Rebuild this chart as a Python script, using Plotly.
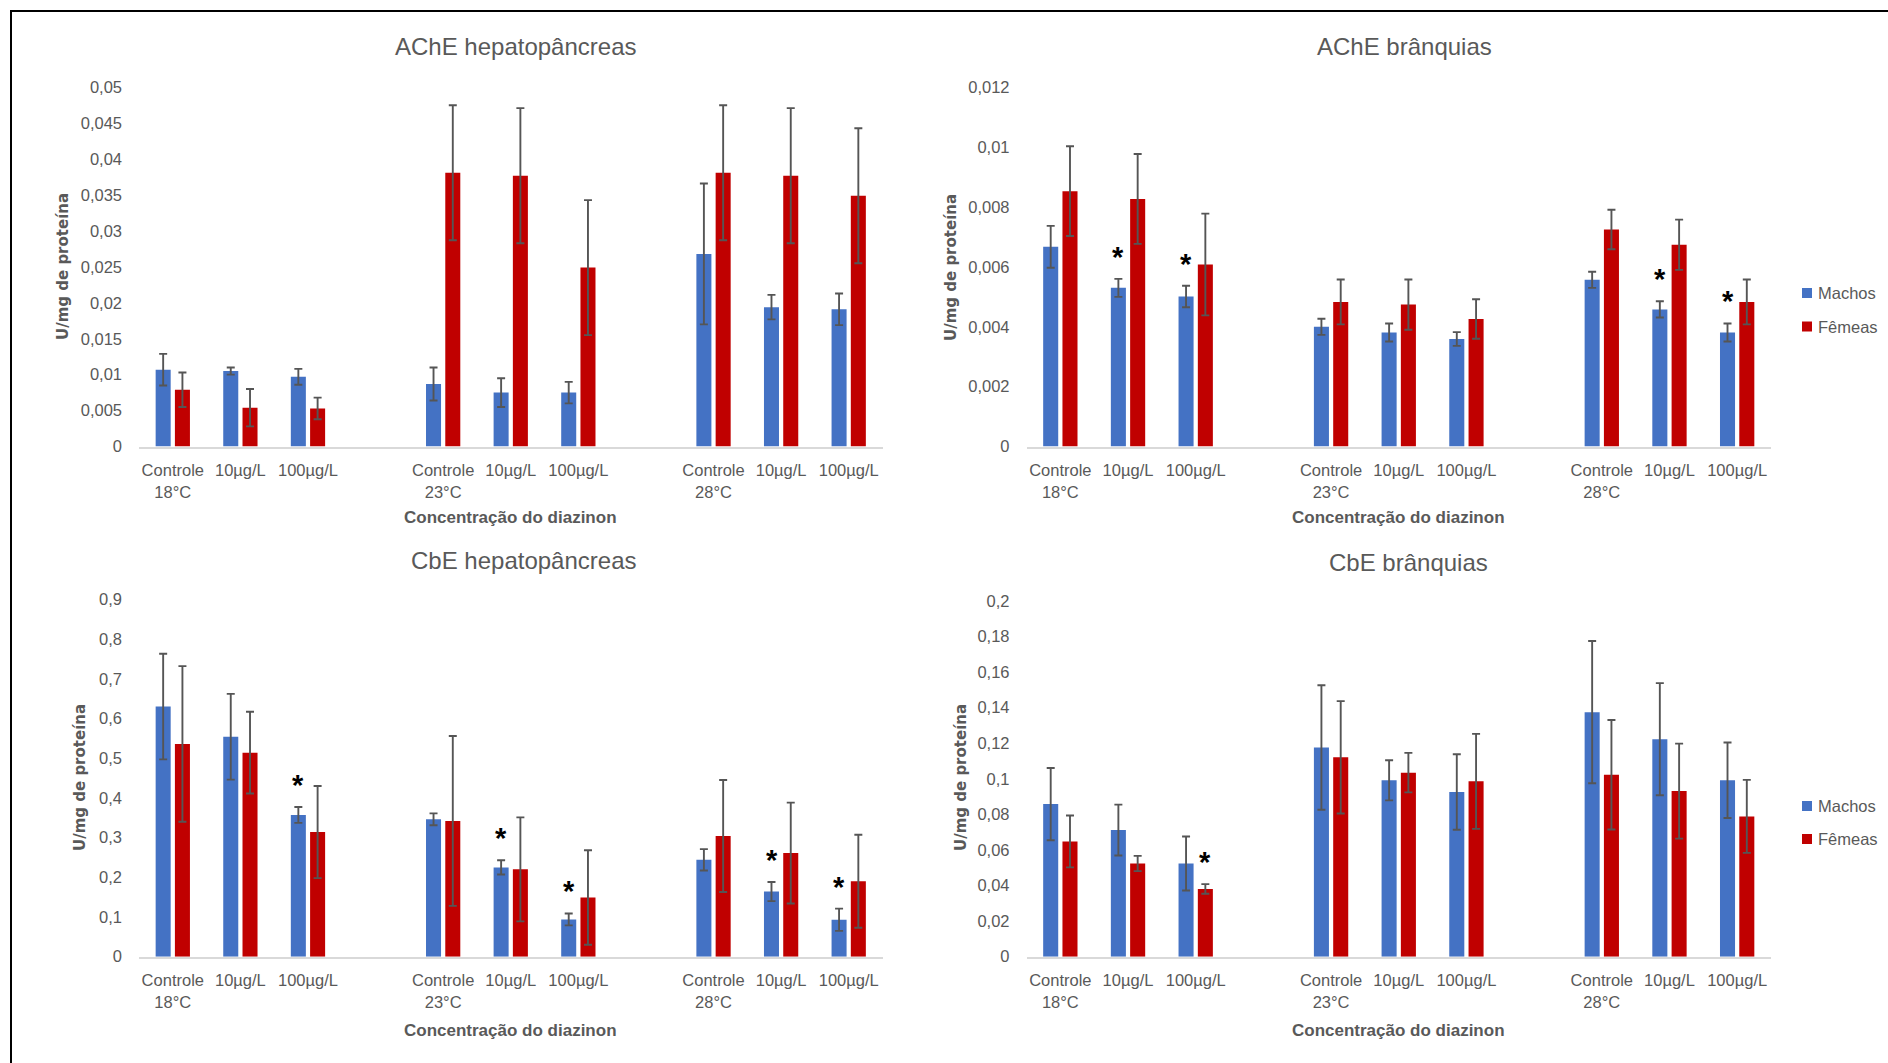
import plotly.graph_objects as go

W, H = 1888, 1063

# ---------------- data ----------------
categories = ["Controle<br>18°C", "10µg/L", "100µg/L", "",
              "Controle<br>23°C", "10µg/L", "100µg/L", "",
              "Controle<br>28°C", "10µg/L", "100µg/L"]
series_names = ["Machos", "Fêmeas"]

# AChE hepatopâncreas
ache_hep_machos = [0.0107, 0.0105, 0.0097, 0.0087, 0.0075, 0.0075, 0.0268, 0.0194, 0.0191]
ache_hep_machos_err = [0.0022, 0.0005, 0.0011, 0.0023, 0.0020, 0.0015, 0.0098, 0.0017, 0.0022]
ache_hep_femeas = [0.0079, 0.0054, 0.0053, 0.0381, 0.0377, 0.0249, 0.0381, 0.0377, 0.0349]
ache_hep_femeas_err = [0.0024, 0.0026, 0.0015, 0.0094, 0.0094, 0.0094, 0.0094, 0.0094, 0.0094]

# AChE brânquias
ache_br_machos = [0.00667, 0.00530, 0.00501, 0.00400, 0.00381, 0.00359, 0.00557, 0.00458, 0.00381]
ache_br_machos_err = [0.00070, 0.00030, 0.00036, 0.00027, 0.00030, 0.00023, 0.00027, 0.00027, 0.00030]
ache_br_femeas = [0.00853, 0.00827, 0.00608, 0.00483, 0.00474, 0.00426, 0.00725, 0.00674, 0.00483]
ache_br_femeas_err = [0.00150, 0.00150, 0.00170, 0.00075, 0.00084, 0.00066, 0.00066, 0.00084, 0.00075]

# CbE hepatopâncreas
cbe_hep_machos = [0.630, 0.554, 0.357, 0.346, 0.225, 0.094, 0.244, 0.164, 0.093]
cbe_hep_machos_err = [0.133, 0.108, 0.020, 0.015, 0.018, 0.015, 0.027, 0.024, 0.028]
cbe_hep_femeas = [0.536, 0.514, 0.314, 0.342, 0.220, 0.149, 0.304, 0.261, 0.190]
cbe_hep_femeas_err = [0.196, 0.103, 0.116, 0.214, 0.131, 0.119, 0.141, 0.127, 0.117]

# CbE brânquias
cbe_br_machos = [0.0858, 0.0712, 0.0524, 0.1176, 0.0992, 0.0926, 0.1375, 0.1223, 0.0992]
cbe_br_machos_err = [0.0203, 0.0143, 0.0152, 0.0350, 0.0113, 0.0212, 0.0400, 0.0315, 0.0212]
cbe_br_femeas = [0.0648, 0.0524, 0.0381, 0.1121, 0.1035, 0.0986, 0.1023, 0.0931, 0.0789]
cbe_br_femeas_err = [0.0146, 0.0043, 0.0027, 0.0316, 0.0111, 0.0267, 0.0308, 0.0267, 0.0205]

# significance markers: (series index, bar index among the 9)
ache_hep_sig = []
ache_br_sig = [(0, 1), (0, 2), (0, 7), (0, 8)]
cbe_hep_sig = [(0, 2), (0, 4), (0, 5), (0, 7), (0, 8)]
cbe_br_sig = [(1, 2)]

ache_hep_ticks = ["0", "0,005", "0,01", "0,015", "0,02", "0,025", "0,03", "0,035", "0,04", "0,045", "0,05"]
ache_br_ticks = ["0", "0,002", "0,004", "0,006", "0,008", "0,01", "0,012"]
cbe_hep_ticks = ["0", "0,1", "0,2", "0,3", "0,4", "0,5", "0,6", "0,7", "0,8", "0,9"]
cbe_br_ticks = ["0", "0,02", "0,04", "0,06", "0,08", "0,1", "0,12", "0,14", "0,16", "0,18", "0,2"]

titles = ["AChE hepatopâncreas", "AChE brânquias", "CbE hepatopâncreas", "CbE brânquias"]
x_title = "Concentração do diazinon"
y_title = "U/mg de proteína"

# ---------------- styling ----------------
BLUE = "#4472C4"
RED = "#C00000"
ERRC = "#555555"
TXT = "#595959"
NARROW = "Liberation Sans Narrow, Arial Narrow, Liberation Sans, sans-serif"
BOLDY = "DejaVu Sans, Verdana, sans-serif"

def px_x(v):
    return v / W

def px_y(v):
    return 1 - v / H

bar_pos = [i for i, c in enumerate(categories) if c != ""]
tick_pos = bar_pos
tick_txt = [categories[i] for i in bar_pos]

panels = [
    dict(m=ache_hep_machos, me=ache_hep_machos_err, f=ache_hep_femeas, fe=ache_hep_femeas_err,
         ticks=ache_hep_ticks, sig=ache_hep_sig,
         xd=(139, 882.5), yd=(446.5, 87.3), title=(515.6, 46.5), ytl=(63, 267), xtl=(510, 518), legend=None),
    dict(m=ache_br_machos, me=ache_br_machos_err, f=ache_br_femeas, fe=ache_br_femeas_err,
         ticks=ache_br_ticks, sig=ache_br_sig,
         xd=(1026.5, 1771), yd=(446.5, 87.3), title=(1404, 46.5), ytl=(951, 267), xtl=(1398, 518), legend=(1807, 293, 326.5)),
    dict(m=cbe_hep_machos, me=cbe_hep_machos_err, f=cbe_hep_femeas, fe=cbe_hep_femeas_err,
         ticks=cbe_hep_ticks, sig=cbe_hep_sig,
         xd=(139, 882.5), yd=(956.7, 599.4), title=(524, 560), ytl=(80, 778), xtl=(510, 1030), legend=None),
    dict(m=cbe_br_machos, me=cbe_br_machos_err, f=cbe_br_femeas, fe=cbe_br_femeas_err,
         ticks=cbe_br_ticks, sig=cbe_br_sig,
         xd=(1026.5, 1771), yd=(956.7, 601), title=(1408, 562), ytl=(961, 778), xtl=(1398, 1030), legend=(1807, 806, 839)),
]

fig = go.Figure()
annotations = []
shapes = []
layout_axes = {}

for k, p in enumerate(panels):
    n = "" if k == 0 else str(k + 1)
    xa, ya = "x" + n, "y" + n
    tickvals_y = [float(t.replace(",", ".")) for t in p["ticks"]]
    for s, (vals, errs, col) in enumerate([(p["m"], p["me"], BLUE), (p["f"], p["fe"], RED)]):
        fig.add_trace(go.Bar(
            x=bar_pos, y=vals, name=series_names[s], marker=dict(color=col, line=dict(width=0)),
            error_y=dict(type="data", array=errs, color=ERRC, thickness=1.9, width=4),
            xaxis=xa, yaxis=ya, showlegend=False, offsetgroup=str(s)))
    layout_axes["xaxis" + n] = dict(
        domain=[px_x(p["xd"][0]), px_x(p["xd"][1])], anchor=ya,
        range=[-0.5, len(categories) - 0.5], tickvals=tick_pos, ticktext=tick_txt,
        showline=True, linecolor="#D9D9D9", linewidth=1.5, showgrid=False, zeroline=False,
        ticks="", tickfont=dict(family=NARROW, size=16.5, color=TXT), ticklabelstandoff=8,
        automargin=False, fixedrange=True)
    layout_axes["yaxis" + n] = dict(
        domain=[px_y(p["yd"][0]), px_y(p["yd"][1])], anchor=xa,
        range=[0, tickvals_y[-1]], tickvals=tickvals_y, ticktext=p["ticks"],
        showline=False, showgrid=False, zeroline=False, ticks="",
        tickfont=dict(family=NARROW, size=16.5, color=TXT), ticklabelstandoff=16,
        automargin=False, fixedrange=True)

    # title
    annotations.append(dict(text=titles[k], x=px_x(p["title"][0]), y=px_y(p["title"][1]),
                            xref="paper", yref="paper", showarrow=False, xanchor="center", yanchor="middle",
                            font=dict(family=NARROW, size=24, color=TXT)))
    # y title
    annotations.append(dict(text="<b>" + y_title + "</b>", x=px_x(p["ytl"][0]), y=px_y(p["ytl"][1]),
                            xref="paper", yref="paper", showarrow=False, textangle=-90,
                            xanchor="center", yanchor="middle",
                            font=dict(family=BOLDY, size=15, color=TXT)))
    # x title
    annotations.append(dict(text="<b>" + x_title + "</b>", x=px_x(p["xtl"][0]), y=px_y(p["xtl"][1]),
                            xref="paper", yref="paper", showarrow=False, xanchor="center", yanchor="middle",
                            font=dict(family=NARROW, size=17, color=TXT)))
    # significance asterisks
    for (s, i) in p["sig"]:
        vals = p["m"] if s == 0 else p["f"]
        errs = p["me"] if s == 0 else p["fe"]
        annotations.append(dict(text="<b>*</b>", x=bar_pos[i], y=vals[i] + errs[i], xref=xa, yref=ya,
                                xshift=-9.6 if s == 0 else 9.6, yshift=4, showarrow=False,
                                xanchor="center", yanchor="bottom",
                                font=dict(family="Liberation Sans, sans-serif", size=29, color="#000000")))
    # legend
    if p["legend"]:
        lx, ly1, ly2 = p["legend"]
        for name, col, ly in [(series_names[0], BLUE, ly1), (series_names[1], RED, ly2)]:
            shapes.append(dict(type="rect", xref="paper", yref="paper",
                               x0=px_x(lx - 5), x1=px_x(lx + 5), y0=px_y(ly + 5), y1=px_y(ly - 5),
                               fillcolor=col, line=dict(width=0)))
            annotations.append(dict(text=name, x=px_x(lx + 9), y=px_y(ly), xref="paper", yref="paper",
                                    showarrow=False, xanchor="left", yanchor="middle",
                                    font=dict(family=NARROW, size=16.5, color=TXT)))

# outer frame
shapes.append(dict(type="rect", xref="paper", yref="paper", x0=px_x(11), x1=px_x(W + 20),
                   y0=px_y(H + 20), y1=px_y(11), line=dict(color="#000000", width=2), fillcolor="rgba(0,0,0,0)"))

fig.update_layout(
    width=W, height=H, margin=dict(l=0, r=0, t=0, b=0, pad=0, autoexpand=False),
    paper_bgcolor="white", plot_bgcolor="white",
    barmode="group", bargap=0.43, bargroupgap=0.22,
    showlegend=False, annotations=annotations, shapes=shapes,
    **layout_axes)

fig.write_html("out.html", config={"displayModeBar": False},
               post_script="document.body.style.margin='0';document.body.style.padding='0';"
                           "document.body.style.overflow='hidden';")
